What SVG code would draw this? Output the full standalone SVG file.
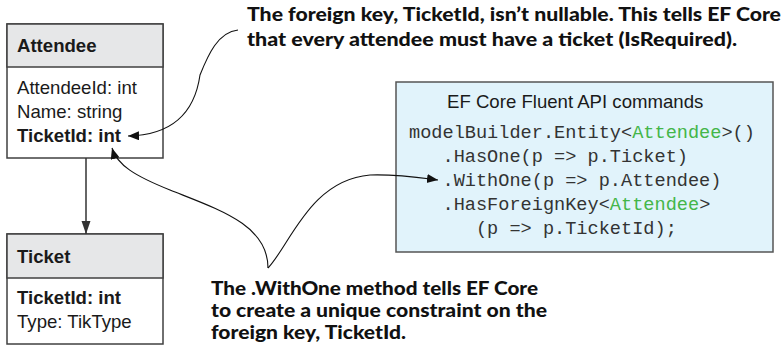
<svg xmlns="http://www.w3.org/2000/svg" width="783" height="353" viewBox="0 0 783 353">
<style>
.box{fill:#fff;stroke:#404040;stroke-width:1.5}
.hdr{fill:#e6e7e8;stroke:#404040;stroke-width:1.5}
.t{font-family:"Liberation Sans",Arial,sans-serif;font-size:18.6px;fill:#1a1a1a}
.b{font-weight:bold}
.note{font-family:Lato,"Liberation Sans",sans-serif;font-weight:900;font-size:18.5px;fill:#111}
.code{font-family:"Liberation Mono","Courier New",monospace;font-size:18.6px;fill:#333}
.g{fill:#44b649}
.conn{fill:none;stroke:#111;stroke-width:1.1}
.rel{fill:none;stroke:#333;stroke-width:1.5}
</style>
<defs>
<marker id="ah" markerUnits="userSpaceOnUse" markerWidth="12" markerHeight="10" refX="11" refY="4.5" orient="auto">
<path d="M0,0 L11,4.5 L0,9 z" fill="#111"/>
</marker>
<marker id="ah2" markerUnits="userSpaceOnUse" markerWidth="14" markerHeight="10" refX="13" refY="4.5" orient="auto">
<path d="M0,0 L13,4.5 L0,9 z" fill="#333"/>
</marker>
</defs>
<g id="attendee">
<rect class="box" x="7" y="24" width="156" height="134"/>
<rect class="hdr" x="7" y="24" width="156" height="43"/>
<text class="t b" x="17" y="52">Attendee</text>
<text class="t" x="17" y="94">AttendeeId: int</text>
<text class="t" x="17" y="118">Name: string</text>
<text class="t b" x="17" y="142">TicketId: int</text>
</g>
<g id="ticket">
<rect class="box" x="7" y="234" width="156" height="110"/>
<rect class="hdr" x="7" y="234" width="156" height="44"/>
<text class="t b" x="17" y="263">Ticket</text>
<text class="t b" x="17" y="304">TicketId: int</text>
<text class="t" x="17" y="328">Type: TikType</text>
</g>
<g id="fluent">
<rect x="396" y="82" width="377" height="170" fill="#e1f3fb" stroke="#555" stroke-width="1.5"/>
<text class="t" x="447" y="108">EF Core Fluent API commands</text>
<text class="code" x="409" y="138" xml:space="preserve">modelBuilder.Entity&lt;<tspan class="g">Attendee</tspan>&gt;()</text>
<text class="code" x="409" y="162" xml:space="preserve">   .HasOne(p =&gt; p.Ticket)</text>
<text class="code" x="409" y="186" xml:space="preserve">   .WithOne(p =&gt; p.Attendee)</text>
<text class="code" x="409" y="210" xml:space="preserve">   .HasForeignKey&lt;<tspan class="g">Attendee</tspan>&gt;</text>
<text class="code" x="409" y="234" xml:space="preserve">      (p =&gt; p.TicketId);</text>
</g>
<g id="note-top">
<text class="note" x="247" y="21" textLength="534" lengthAdjust="spacingAndGlyphs">The foreign key, TicketId, isn’t nullable. This tells EF Core</text>
<text class="note" x="247" y="46" textLength="490" lengthAdjust="spacingAndGlyphs">that every attendee must have a ticket (IsRequired).</text>
</g>
<g id="note-bottom">
<text class="note" x="211" y="295" textLength="327" lengthAdjust="spacingAndGlyphs">The .WithOne method tells EF Core</text>
<text class="note" x="211" y="317" textLength="336" lengthAdjust="spacingAndGlyphs">to create a unique constraint on the</text>
<text class="note" x="211" y="339" textLength="195" lengthAdjust="spacingAndGlyphs">foreign key, TicketId.</text>
</g>
<g id="connectors">
<path class="rel" d="M86,158 L86,234" marker-end="url(#ah2)"/>
<path class="conn" d="M238,30 C218,32 208,55 200,75 C195,110 175,135 128,136" marker-end="url(#ah)"/>
<path class="conn" d="M268,268 C268,225 220,210 170,190 C135,176 117,165 112,148" marker-end="url(#ah)"/>
<path class="conn" d="M268,268 C290,245 310,180 370,175 C395,174 415,177 438,180" marker-end="url(#ah)"/>
</g>
</svg>
